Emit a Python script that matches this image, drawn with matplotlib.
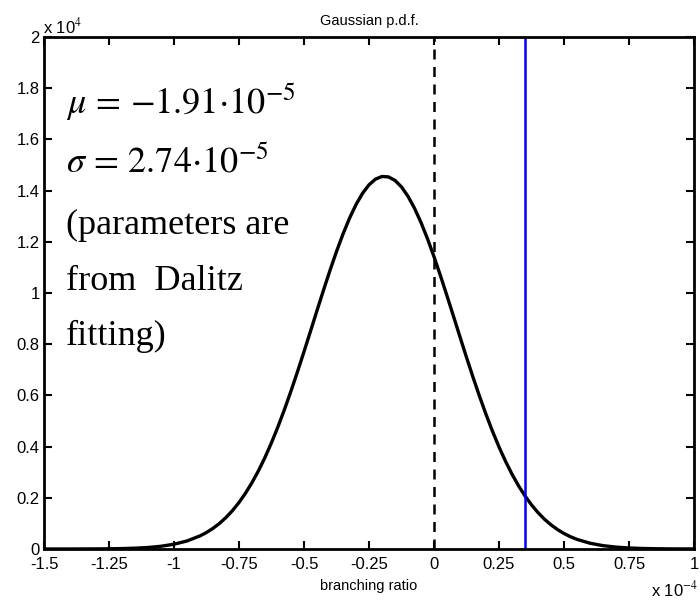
import matplotlib
matplotlib.use("Agg")
import matplotlib.pyplot as plt

# branching ratio (units of 1e-4)
x_vals = [-1.50, -1.45, -1.40, -1.35, -1.30, -1.25, -1.20, -1.15, -1.10, -1.05,
          -1.00, -0.95, -0.90, -0.875, -0.85, -0.825, -0.80, -0.775, -0.75, -0.725,
          -0.70, -0.675, -0.65, -0.625, -0.60, -0.575, -0.55, -0.525, -0.50, -0.475,
          -0.45, -0.425, -0.40, -0.375, -0.35, -0.325, -0.30, -0.275, -0.25, -0.225,
          -0.20, -0.175, -0.15, -0.125, -0.10, -0.075, -0.05, -0.025, 0.00, 0.025,
          0.05, 0.075, 0.10, 0.125, 0.15, 0.175, 0.20, 0.225, 0.25, 0.275,
          0.30, 0.325, 0.35, 0.375, 0.40, 0.425, 0.45, 0.475, 0.50, 0.525,
          0.55, 0.60, 0.65, 0.70, 0.75, 0.80, 0.85, 0.90, 0.95, 1.00]
# pdf values (units of 1e4)
pdf_vals = [0.00002, 0.00004, 0.00009, 0.0002, 0.0004, 0.0008, 0.0017, 0.0032, 0.0059, 0.0107,
            0.0186, 0.0314, 0.0512, 0.0645, 0.0807, 0.1001, 0.1231, 0.1502, 0.1817, 0.2180,
            0.2594, 0.3059, 0.3579, 0.4153, 0.4780, 0.5454, 0.6172, 0.6926, 0.7708, 0.8509,
            0.9314, 1.0110, 1.0885, 1.1620, 1.2303, 1.2919, 1.3452, 1.3892, 1.4226, 1.4448,
            1.4552, 1.4535, 1.4398, 1.4143, 1.3778, 1.3312, 1.2754, 1.2118, 1.1420, 1.0671,
            0.9889, 0.9090, 0.8283, 0.7487, 0.6712, 0.5967, 0.5261, 0.4598, 0.3987, 0.3429,
            0.2923, 0.2473, 0.2073, 0.1724, 0.1422, 0.1163, 0.0944, 0.0759, 0.0605, 0.0479,
            0.0376, 0.0226, 0.0131, 0.0074, 0.0040, 0.0021, 0.0011, 0.0005, 0.0003, 0.0001]
zero_line = 0.0
limit_line = 0.35
x_ticks = [-1.5, -1.25, -1, -0.75, -0.5, -0.25, 0, 0.25, 0.5, 0.75, 1]
y_ticks = [0, 0.2, 0.4, 0.6, 0.8, 1, 1.2, 1.4, 1.6, 1.8, 2]
annot_lines = [r'$\mu\,=\,{-}1.91{\cdot}10^{-5}$', r'$\sigma\,=\,2.74{\cdot}10^{-5}$',
               '(parameters are', 'from  Dalitz', 'fitting)']

plt.rcParams['font.family'] = ['Liberation Sans', 'DejaVu Sans']
plt.rcParams['mathtext.fontset'] = 'stix'

fig = plt.figure(figsize=(7.0, 6.01), dpi=100)
ax = fig.add_axes([44/700, 52/601, 650/700, 512/601])

ax.plot(x_vals, pdf_vals, color='black', lw=2.4, solid_joinstyle='round')
ax.axvline(zero_line, color='black', lw=1.8, ls=(0, (4, 3)))
ax.axvline(limit_line, color='#0000ff', lw=1.8)

ax.set_xlim(-1.5, 1.0)
ax.set_ylim(0, 2)
ax.set_xticks(x_ticks)
ax.set_xticklabels(['%g' % t for t in x_ticks])
ax.set_yticks(y_ticks)
ax.set_yticklabels(['%g' % t for t in y_ticks])
ax.tick_params(direction='in', top=True, right=True, length=6, width=1.5,
               labelsize=12, colors='black')
ax.tick_params(axis='x', pad=6)
ax.tick_params(axis='y', pad=3)
for s in ax.spines.values():
    s.set_linewidth(2)

ax.set_title('Gaussian p.d.f.', fontsize=10.5, pad=9)
ax.set_xlabel('branching ratio', fontsize=10.5, labelpad=5)

fig.text(43/700, 1 - 26/601, r'x 10$^{4}$', fontsize=12, ha='left', va='center')
fig.text(651/700, 1 - 589/601, r'x 10$^{-4}$', fontsize=12, ha='left', va='center')

ys = [102, 163, 225, 281, 336]
for t, yy in zip(annot_lines, ys):
    fig.text(66/700, 1 - yy/601, t, fontsize=26, ha='left', va='center',
             family='Liberation Serif', math_fontfamily='stix')

fig.savefig('out.png', dpi=100)
